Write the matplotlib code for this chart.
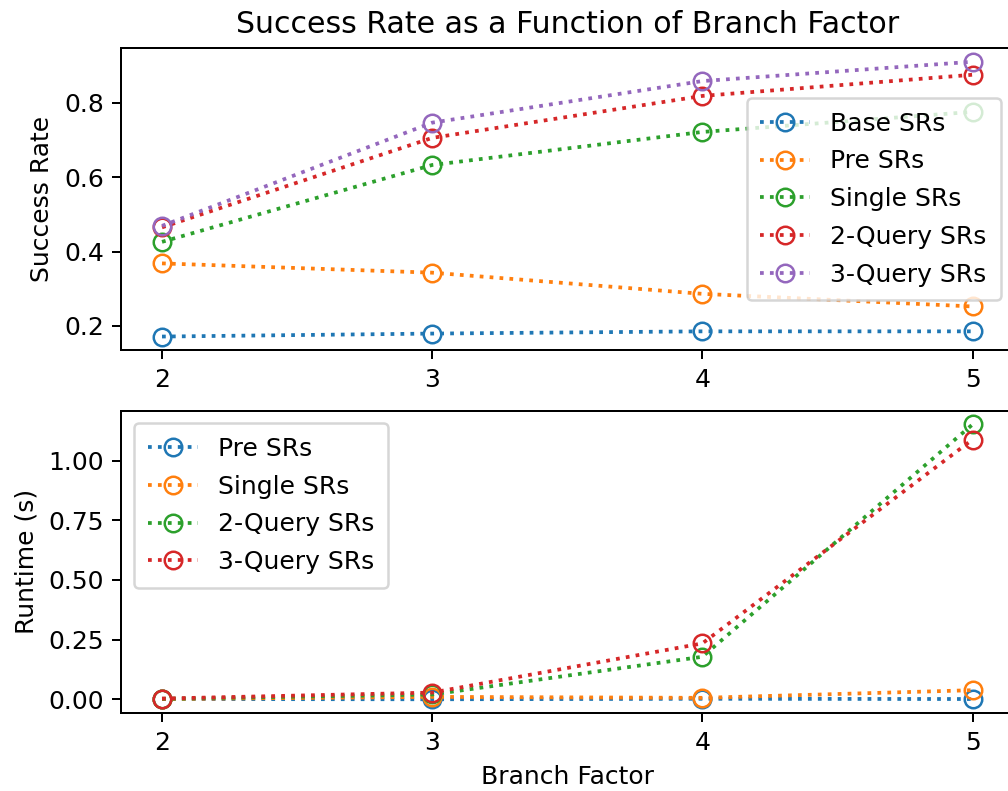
import numpy as np
import matplotlib
matplotlib.use("Agg")
import matplotlib.pyplot as plt

branch = [2, 3, 4, 5]

# success rates per method
sr_labels = ["Base SRs", "Pre SRs", "Single SRs", "2-Query SRs", "3-Query SRs"]
base_sr = [0.171, 0.179, 0.185, 0.185]
pre_sr = [0.368, 0.343, 0.286, 0.252]
single_sr = [0.426, 0.633, 0.722, 0.776]
q2_sr = [0.465, 0.706, 0.819, 0.876]
q3_sr = [0.469, 0.747, 0.859, 0.911]

# runtimes (s)
rt_labels = ["Pre SRs", "Single SRs", "2-Query SRs", "3-Query SRs"]
pre_rt = [0.001, 0.0, 0.002, 0.001]
single_rt = [0.001, 0.010, 0.006, 0.038]
q2_rt = [0.002, 0.020, 0.178, 1.151]
q3_rt = [0.003, 0.028, 0.234, 1.088]

fig, (ax1, ax2) = plt.subplots(2, 1, figsize=(1009 / 180, 791 / 180), dpi=180)
fig.subplots_adjust(left=0.1204, right=1.004, top=0.9393, bottom=0.0986, hspace=0.2)

for vals, lab in zip([base_sr, pre_sr, single_sr, q2_sr, q3_sr], sr_labels):
    ax1.plot(branch, vals, ':o', fillstyle='none', markersize=7, label=lab)
ax1.set_title("Success Rate as a Function of Branch Factor")
ax1.set_ylabel("Success Rate")
ax1.set_xticks(branch)
ax1.legend(loc="center right", labelspacing=0.55, borderpad=0.55)

for vals, lab in zip([pre_rt, single_rt, q2_rt, q3_rt], rt_labels):
    ax2.plot(branch, vals, ':o', fillstyle='none', markersize=7, label=lab)
ax2.set_xlabel("Branch Factor")
ax2.set_ylabel("Runtime (s)")
ax2.set_xticks(branch)
ax2.legend(loc="upper left", labelspacing=0.55, borderpad=0.55)

fig.savefig("out.png", dpi=180)
